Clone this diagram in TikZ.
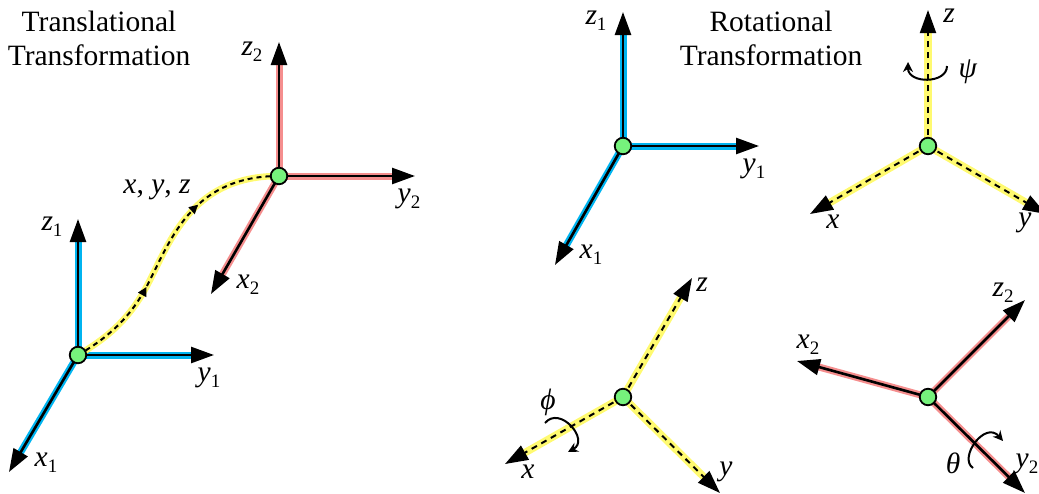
\documentclass[tikz,border=0pt]{standalone}
\usepackage{fontspec}
\setmainfont{Liberation Serif}
\usetikzlibrary{arrows.meta,decorations.markings}
\definecolor{bandblue}{HTML}{00B4F0}
\definecolor{bandred}{HTML}{F58E8E}
\definecolor{bandyellow}{HTML}{FFFA70}
\definecolor{origgreen}{HTML}{76F27C}
\newcommand{\axlab}[2]{\textit{#1}\raisebox{-6pt}{\fontsize{19}{19}\selectfont #2}}
\tikzset{
  x=1pt,y=-1pt,
  tipx/.style={-{Triangle[length=23pt,width=16pt]}},
  core/.style={tipx,black,line width=2.6pt},
  dcore/.style={tipx,black,line width=2pt,dash pattern=on 6pt off 5pt},
  bluea/.style={draw=bandblue,line width=7pt,shorten >=18pt},
  reda/.style={draw=bandred,line width=7pt,shorten >=18pt},
  yela/.style={draw=bandyellow,line width=7.5pt,shorten >=18pt},
  origin/.style={circle,draw=black,line width=1.8pt,fill=origgreen,minimum size=16.5pt,inner sep=0pt},
  lab/.style={font=\fontsize{29.5}{31}\selectfont,inner sep=0pt},
  rot/.style={line width=2pt,black,-{Stealth[length=10pt,width=10pt]}},
  title/.style={font=\fontsize{29.5}{34}\selectfont,align=center,inner sep=0pt},
}
\begin{document}
\begin{tikzpicture}
\useasboundingbox (0,0) rectangle (1039,493);
% coordinates
\foreach \n/\p in {A/{78,355},Azt/{78,219},Ayt/{214,355},Axt/{9,472},
  B/{279,176},Bzt/{279,42},Byt/{415,176},Bxt/{211,294},
  C/{623,146},Czt/{623,12},Cyt/{759,146},Cxt/{555,265},
  D/{928,146},Dzt/{928,10},Dyt/{1046,214},Dxt/{810,214},
  E/{623,397},Ezt/{692,278},Eyt/{720,493},Ext/{505,464},
  F/{928,397},Fzt/{1025,300},Fyt/{1025,493},Fxt/{797,361}}
  {\coordinate (\n) at (\p);}
% bands and axes
\foreach \o/\st/\cr in {A/bluea/core,B/reda/core,C/bluea/core,D/yela/dcore,E/yela/dcore,F/reda/core}{
  \foreach \t in {x,y,z}{
    \draw[\st] (\o) -- (\o\t t);
    \draw[\cr] (\o) -- (\o\t t);
  }
}
% path
\draw[bandyellow,line width=6.5pt] (A) .. controls (118,332) and (136,308) .. (150,280) .. controls (172,236) and (195,176) .. (B);
\draw[black,line width=2pt,dash pattern=on 5pt off 4pt,
  postaction={decorate,decoration={markings,
    mark=at position 0.345 with {\arrow{Triangle[length=9pt,width=9pt]}},
    mark=at position 0.69 with {\arrow{Triangle[length=9pt,width=9pt]}}}}]
  (A) .. controls (118,332) and (136,308) .. (150,280) .. controls (172,236) and (195,176) .. (B);
% rotation arrows
\coordinate (r1s) at (947,66); \coordinate (r1e) at (908,62);
\draw[rot] (r1s) .. controls (947,84) and (908,84) .. (r1e);
\coordinate (r2s) at (545,423); \coordinate (r2e) at (568,452);
\draw[rot] (r2s) .. controls (560,405) and (590,440) .. (r2e);
\coordinate (r3s) at (973,468); \coordinate (r3e) at (1003,441);
\draw[rot] (r3s) .. controls (958,458) and (985,420) .. (r3e);
% origins
\foreach \o in {A,B,C,D,E,F}{\node[origin] (n\o) at (\o) {};}
% labels
\node[title] (t1) at (99,38) {Translational\\Transformation};
\node[title] (t2) at (771,38) {Rotational\\Transformation};
\node[lab] (l1) at (52,227) {\axlab{z}{1}};
\node[lab] (l2) at (209,378) {\axlab{y}{1}};
\node[lab] (l3) at (46,463) {\axlab{x}{1}};
\node[lab] (l4) at (157,190) {\textit{x}, \textit{y}, \textit{z}};
\node[lab] (l5) at (252,52) {\axlab{z}{2}};
\node[lab] (l6) at (409,199) {\axlab{y}{2}};
\node[lab] (l7) at (248,285) {\axlab{x}{2}};
\node[lab] (l8) at (596,21) {\axlab{z}{1}};
\node[lab] (l9) at (754,169) {\axlab{y}{1}};
\node[lab] (l10) at (591,255) {\axlab{x}{1}};
\node[lab] (l11) at (949,16) {\textit{z}};
\node[lab] (l12) at (1025,223) {\textit{y}};
\node[lab] (l13) at (833,222) {\textit{x}};
\node[lab] (l14) at (968,72) {\textit{ψ}};
\node[lab] (l15) at (702,285) {\textit{z}};
\node[lab] (l16) at (726,472) {\textit{y}};
\node[lab] (l17) at (528,472) {\textit{x}};
\node[lab] (l18) at (548,402) {\textit{ϕ}};
\node[lab] (l19) at (1003,293) {\axlab{z}{2}};
\node[lab] (l20) at (808,345) {\axlab{x}{2}};
\node[lab] (l21) at (1027,464) {\axlab{y}{2}};
\node[lab] (l22) at (953,463) {\textit{θ}};
\end{tikzpicture}
\end{document}
